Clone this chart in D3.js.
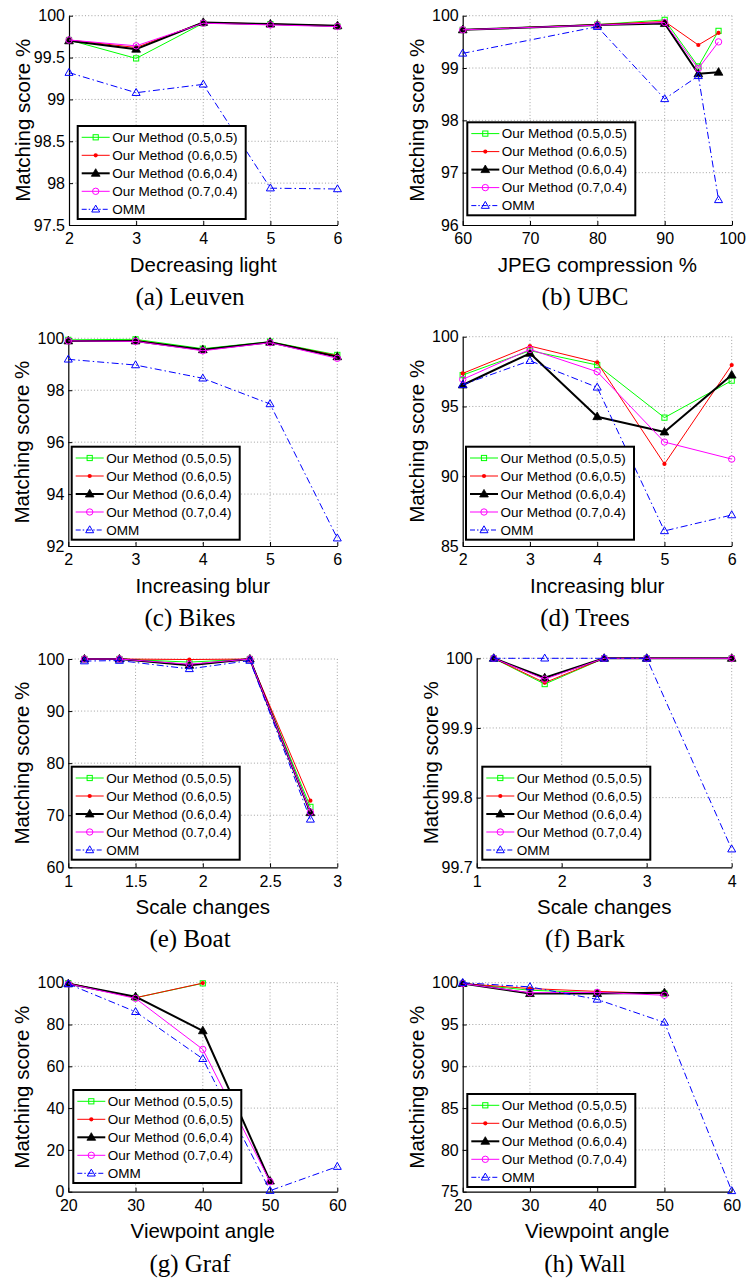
<!DOCTYPE html>
<html><head><meta charset="utf-8">
<script src="https://cdn.jsdelivr.net/npm/d3@7"></script>
<style>
html,body{margin:0;padding:0;background:#fff;}
svg{display:block;}
</style></head>
<body>
<svg id="chart" width="746" height="1279"></svg>
<script>
// ---------- data ----------
const seriesNames = ["Our Method (0.5,0.5)", "Our Method (0.6,0.5)", "Our Method (0.6,0.4)", "Our Method (0.7,0.4)", "OMM"];

// (a) Leuven
const leuvenX = [2, 3, 4, 5, 6];
const leuvenG = [99.71, 99.49, 99.91, 99.90, 99.87];
const leuvenR = [99.71, 99.62, 99.92, 99.90, 99.88];
const leuvenK = [99.70, 99.60, 99.92, 99.90, 99.88];
const leuvenM = [99.71, 99.64, 99.91, 99.89, 99.87];
const leuvenO = [99.32, 99.08, 99.18, 97.94, 97.93];
const leuvenXTicks = [2, 3, 4, 5, 6];
const leuvenYTicks = [97.5, 98, 98.5, 99, 99.5, 100];

// (b) UBC
const ubcX = [60, 80, 90, 95, 98];
const ubcG = [99.73, 99.83, 99.92, 99.03, 99.71];
const ubcR = [99.73, 99.83, 99.89, 99.44, 99.67];
const ubcK = [99.73, 99.82, 99.85, 98.89, 98.92];
const ubcM = [99.73, 99.82, 99.87, 98.99, 99.50];
const ubcO = [99.28, 99.79, 98.41, 98.85, 96.48];
const ubcXTicks = [60, 70, 80, 90, 100];
const ubcYTicks = [96, 97, 98, 99, 100];

// (c) Bikes
const bikesX = [2, 3, 4, 5, 6];
const bikesG = [99.94, 99.96, 99.60, 99.87, 99.36];
const bikesR = [99.90, 99.92, 99.55, 99.85, 99.33];
const bikesK = [99.90, 99.90, 99.56, 99.85, 99.29];
const bikesM = [99.90, 99.88, 99.52, 99.83, 99.23];
const bikesO = [99.19, 98.97, 98.46, 97.47, 92.30];
const bikesXTicks = [2, 3, 4, 5, 6];
const bikesYTicks = [92, 94, 96, 98, 100];

// (d) Trees
const treesX = [2, 3, 4, 5, 6];
const treesG = [97.25, 99.00, 97.97, 94.20, 96.85];
const treesR = [97.37, 99.33, 98.16, 90.88, 97.97];
const treesK = [96.54, 98.81, 94.27, 93.17, 97.25];
const treesM = [96.94, 99.09, 97.49, 92.45, 91.23];
const treesO = [96.56, 98.28, 96.37, 86.08, 87.22];
const treesXTicks = [2, 3, 4, 5, 6];
const treesYTicks = [85, 90, 95, 100];

// (e) Boat
const boatX = [1.12, 1.38, 1.9, 2.35, 2.8];
const boatG = [100, 100, 99.4, 100, 71.6];
const boatR = [100, 100, 99.9, 100, 72.8];
const boatK = [100, 100, 98.8, 100, 70.5];
const boatM = [100, 100, 99.0, 100, 70.6];
const boatO = [99.6, 99.7, 98.1, 99.7, 69.2];
const boatXTicks = [1, 1.5, 2, 2.5, 3];
const boatYTicks = [60, 70, 80, 90, 100];

// (f) Bark
const barkX = [1.2, 1.8, 2.5, 3, 4];
const barkG = [100, 99.963, 100, 100, 100];
const barkR = [100, 99.965, 100, 100, 100];
const barkK = [100, 99.972, 100, 100, 100];
const barkM = [100, 99.970, 100, 100, 100];
const barkO = [100, 100, 100, 100, 99.726];
const barkXTicks = [1, 2, 3, 4];
const barkYTicks = [99.7, 99.8, 99.9, 100];

// (g) Graf
const grafX = [20, 30, 40, 50, 60];
const grafG = [99.8, 92.8, 99.7];
const grafR = [99.8, 92.8, 99.8];
const grafK = [99.5, 93.3, 77.0, 5.1];
const grafM = [99.5, 92.5, 68.1, 4.8];
const grafO = [99.4, 86.1, 63.6, 0.5, 12.0];
const grafXTicks = [20, 30, 40, 50, 60];
const grafYTicks = [0, 20, 40, 60, 80, 100];

// (h) Wall
const wallX = [20, 30, 40, 50, 60];
const wallG = [99.9, 99.1, 98.8, 98.7];
const wallR = [99.9, 99.3, 98.96, 98.7];
const wallK = [99.9, 98.7, 98.7, 98.8];
const wallM = [99.9, 98.8, 98.84, 98.5];
const wallO = [100, 99.5, 98.0, 95.25, 75.1];
const wallXTicks = [20, 30, 40, 50, 60];
const wallYTicks = [75, 80, 85, 90, 95, 100];

const xLabels = ["Decreasing light", "JPEG compression %", "Increasing blur", "Increasing blur", "Scale changes", "Scale changes", "Viewpoint angle", "Viewpoint angle"];
const captions = ["(a) Leuven", "(b) UBC", "(c) Bikes", "(d) Trees", "(e) Boat", "(f) Bark", "(g) Graf", "(h) Wall"];
const yLabel = "Matching score %";

// ---------- panel table built from the arrays ----------
const panelData = [
  {x: leuvenX, s: [leuvenG, leuvenR, leuvenK, leuvenM, leuvenO], xt: leuvenXTicks, yt: leuvenYTicks},
  {x: ubcX, s: [ubcG, ubcR, ubcK, ubcM, ubcO], xt: ubcXTicks, yt: ubcYTicks},
  {x: bikesX, s: [bikesG, bikesR, bikesK, bikesM, bikesO], xt: bikesXTicks, yt: bikesYTicks},
  {x: treesX, s: [treesG, treesR, treesK, treesM, treesO], xt: treesXTicks, yt: treesYTicks},
  {x: boatX, s: [boatG, boatR, boatK, boatM, boatO], xt: boatXTicks, yt: boatYTicks},
  {x: barkX, s: [barkG, barkR, barkK, barkM, barkO], xt: barkXTicks, yt: barkYTicks},
  {x: grafX, s: [grafG, grafR, grafK, grafM, grafO], xt: grafXTicks, yt: grafYTicks},
  {x: wallX, s: [wallG, wallR, wallK, wallM, wallO], xt: wallXTicks, yt: wallYTicks}
];

// ---------- layout ----------
const layout = [
  {L: 69, R: 337.5, T: 15.7, B: 225, lx: 77.7, ly: 126, cx: 190},
  {L: 462.7, R: 732, T: 15.7, B: 225, lx: 467.3, ly: 122.3, cx: 585},
  {L: 68.3, R: 337.3, T: 338.3, B: 546, lx: 71.7, ly: 446.7, cx: 190},
  {L: 462.7, R: 731.7, T: 336.7, B: 546, lx: 466, ly: 446.7, cx: 585},
  {L: 68.3, R: 337.3, T: 659, B: 867.3, lx: 71.7, ly: 766.7, cx: 190},
  {L: 476.7, R: 731.7, T: 658.3, B: 867.3, lx: 482.3, ly: 766.7, cx: 585},
  {L: 68.3, R: 337.3, T: 982.7, B: 1191.7, lx: 73.3, ly: 1090, cx: 190},
  {L: 462.7, R: 731.7, T: 982.7, B: 1191.7, lx: 467.3, ly: 1094, cx: 585}
];

const styles = [
  {color: "#00ff00", width: 1, dash: null, marker: "square"},
  {color: "#ff0000", width: 1, dash: null, marker: "dot"},
  {color: "#000000", width: 2, dash: null, marker: "triFilled"},
  {color: "#ff00ff", width: 1, dash: null, marker: "circle"},
  {color: "#0000ff", width: 1, dash: "7,3,1.5,3", marker: "triOpen"}
];

const SANS = "'Liberation Sans', Arial, Helvetica, sans-serif";
const SERIF = "'Liberation Serif', 'Times New Roman', serif";
const fmt = v => String(+v.toFixed(2));

const svg = d3.select("#chart");

function drawMarker(g, type, color, cx, cy) {
  if (type === "square") {
    g.append("rect").attr("x", cx - 2.6).attr("y", cy - 2.6).attr("width", 5.2).attr("height", 5.2)
      .attr("fill", "none").attr("stroke", color).attr("stroke-width", 1);
  } else if (type === "dot") {
    g.append("circle").attr("cx", cx).attr("cy", cy).attr("r", 2.1).attr("fill", color);
  } else if (type === "circle") {
    g.append("circle").attr("cx", cx).attr("cy", cy).attr("r", 3.2)
      .attr("fill", "none").attr("stroke", color).attr("stroke-width", 1);
  } else if (type === "triFilled") {
    const s = 4.6;
    g.append("path").attr("d", `M${cx},${cy - s}L${cx + s * 0.95},${cy + s * 0.65}L${cx - s * 0.95},${cy + s * 0.65}Z`)
      .attr("fill", color).attr("stroke", color).attr("stroke-width", 0.8);
  } else if (type === "triOpen") {
    const s = 4.2;
    g.append("path").attr("d", `M${cx},${cy - s}L${cx + s * 0.95},${cy + s * 0.65}L${cx - s * 0.95},${cy + s * 0.65}Z`)
      .attr("fill", "none").attr("stroke", color).attr("stroke-width", 1);
  }
}

panelData.forEach((pd, i) => {
  const lay = layout[i];
  const x = d3.scaleLinear().domain(d3.extent(pd.xt)).range([lay.L, lay.R]);
  const y = d3.scaleLinear().domain(d3.extent(pd.yt)).range([lay.B, lay.T]);
  const g = svg.append("g");

  // grid
  const grid = g.append("g").attr("stroke", "#8a8a8a").attr("stroke-width", 0.8).attr("stroke-dasharray", "1,2.2");
  pd.yt.forEach(t => {
    if (t === d3.min(pd.yt)) return;
    grid.append("line").attr("x1", lay.L).attr("x2", lay.R).attr("y1", y(t)).attr("y2", y(t));
  });
  pd.xt.forEach(t => {
    if (t === d3.min(pd.xt)) return;
    grid.append("line").attr("x1", x(t)).attr("x2", x(t)).attr("y1", lay.T).attr("y2", lay.B);
  });

  // axes
  const xAxis = d3.axisBottom(x).tickValues(pd.xt).tickFormat(fmt).tickSizeInner(-4).tickSizeOuter(0).tickPadding(8);
  const yAxis = d3.axisLeft(y).tickValues(pd.yt).tickFormat(fmt).tickSizeInner(-4).tickSizeOuter(0).tickPadding(4);
  const gx = g.append("g").attr("transform", `translate(0,${lay.B})`).call(xAxis);
  const gy = g.append("g").attr("transform", `translate(${lay.L},0)`).call(yAxis);
  [gx, gy].forEach(a => {
    a.selectAll("text").attr("font-family", SANS).attr("font-size", 16).attr("fill", "#000");
    a.selectAll("line").attr("stroke", "#000");
    a.select(".domain").attr("stroke", "#000").attr("stroke-width", 1.2);
  });

  // series lines
  pd.s.forEach((vals, k) => {
    const st = styles[k];
    const pts = vals.map((v, j) => [pd.x[j], v]);
    const line = d3.line().x(d => x(d[0])).y(d => y(d[1]));
    const p = g.append("path").attr("d", line(pts)).attr("fill", "none")
      .attr("stroke", st.color).attr("stroke-width", st.width).attr("stroke-linejoin", "round");
    if (st.dash) p.attr("stroke-dasharray", st.dash);
    pts.forEach(d => drawMarker(g, st.marker, st.color, x(d[0]), y(d[1])));
  });

  // legend
  const lg = g.append("g").attr("transform", `translate(${lay.lx},${lay.ly})`);
  lg.append("rect").attr("x", 0).attr("y", 0).attr("width", 168).attr("height", 93)
    .attr("fill", "#fff").attr("stroke", "#000").attr("stroke-width", 2);
  seriesNames.forEach((name, k) => {
    const st = styles[k];
    const yy = 11.3 + k * 18;
    const ln = lg.append("line").attr("x1", 4).attr("x2", 32).attr("y1", yy).attr("y2", yy)
      .attr("stroke", st.color).attr("stroke-width", st.width);
    if (st.dash) ln.attr("stroke-dasharray", "5,2,1.5,2");
    drawMarker(lg, st.marker, st.color, 18, yy);
    lg.append("text").attr("x", 34.5).attr("y", yy).attr("dy", "0.35em")
      .attr("font-family", SANS).attr("font-size", 13.5).attr("fill", "#000").text(name);
  });

  // labels
  g.append("text").attr("x", (lay.L + lay.R) / 2).attr("y", lay.B + 39.5).attr("dy", "0.35em")
    .attr("text-anchor", "middle").attr("font-family", SANS).attr("font-size", 20.5).text(xLabels[i]);
  g.append("text").attr("transform", `translate(${lay.L - 46},${(lay.T + lay.B) / 2}) rotate(-90)`)
    .attr("dy", "0.35em").attr("text-anchor", "middle").attr("font-family", SANS).attr("font-size", 20.5).text(yLabel);
  g.append("text").attr("x", lay.cx).attr("y", lay.B + 80)
    .attr("text-anchor", "middle").attr("font-family", SERIF).attr("font-size", 25).text(captions[i]);
});
</script>
</body></html>
